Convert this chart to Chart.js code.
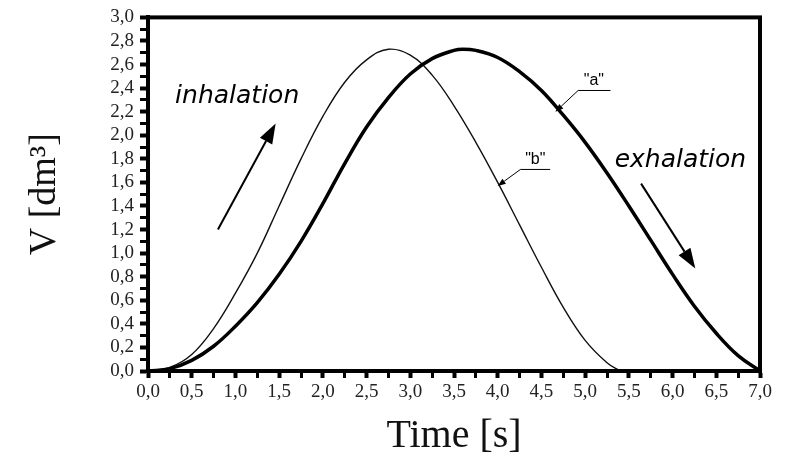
<!DOCTYPE html>
<html>
<head>
<meta charset="utf-8">
<script src="https://cdn.jsdelivr.net/npm/chart.js@4.4.1/dist/chart.umd.min.js"></script>
<style>
  html, body { margin: 0; padding: 0; background: #fff; }
  #wrap { width: 787px; height: 458px; }
</style>
</head>
<body>
<div id="wrap"><canvas id="breathChart"></canvas></div>
<script>
// curve "a" (thick)
const timeA = [0, 0.25, 0.5, 0.75, 1.0, 1.25, 1.5, 1.75, 2.0, 2.25, 2.5, 2.75, 3.0, 3.25, 3.5, 3.6,
               3.75, 4.0, 4.25, 4.5, 4.75, 5.0, 5.25, 5.5, 5.75, 6.0, 6.25, 6.5, 6.75, 7.0];
const volA  = [0.00, 0.02, 0.09, 0.21, 0.38, 0.58, 0.82, 1.10, 1.42, 1.76, 2.07, 2.32, 2.52, 2.65, 2.72, 2.73,
               2.72, 2.66, 2.54, 2.38, 2.17, 1.94, 1.68, 1.40, 1.11, 0.82, 0.55, 0.32, 0.13, 0.00];

// curve "b" (thin)
const timeB = [0, 0.25, 0.5, 0.75, 1.0, 1.25, 1.5, 1.75, 2.0, 2.25, 2.5, 2.75, 3.0, 3.25, 3.5,
               3.75, 4.0, 4.25, 4.5, 4.75, 5.0, 5.25, 5.4];
const volB  = [0.00, 0.03, 0.14, 0.36, 0.66, 1.00, 1.40, 1.80, 2.16, 2.45, 2.64, 2.73, 2.68, 2.51, 2.25,
               1.94, 1.60, 1.24, 0.88, 0.54, 0.26, 0.07, 0.00];

// axis ranges / ticks
const xMin = 0, xMax = 7, xStep = 0.25;
const yMin = 0, yMax = 3, yStep = 0.1;

const xTitle = 'Time [s]';
const yTitle = 'V [dm³]';

// annotation texts, placed in data units
const notes = [
  { text: 'inhalation', t: 1.02, v: 2.33 },
  { text: 'exhalation', t: 6.09, v: 1.79 }
];
const arrows = [
  { from: [0.80, 1.20], to: [1.46, 2.10] },
  { from: [5.64, 1.59], to: [6.26, 0.87] }
];
const curveLabels = [
  { text: '"a"', t: 5.10, v: 2.46, lineFrom: 4.92, lineTo: 5.29, lineV: 2.38, tipT: 4.66, tipV: 2.20 },
  { text: '"b"', t: 4.43, v: 1.79, lineFrom: 4.26, lineTo: 4.60, lineV: 1.71, tipT: 4.00, tipV: 1.57 }
];

const toPoints = (xs, ys) => xs.map((x, i) => ({ x: x, y: ys[i] }));
const comma = v => v.toFixed(1).replace('.', ',');

function drawArrow(ctx, x1, y1, x2, y2, head, width) {
    const ang = Math.atan2(y2 - y1, x2 - x1);
    const bx = x2 - head * Math.cos(ang);
    const by = y2 - head * Math.sin(ang);
    ctx.beginPath();
    ctx.moveTo(x1, y1);
    ctx.lineTo(bx, by);
    ctx.stroke();
    ctx.beginPath();
    ctx.moveTo(x2, y2);
    ctx.lineTo(bx + width * Math.sin(ang), by - width * Math.cos(ang));
    ctx.lineTo(bx - width * Math.sin(ang), by + width * Math.cos(ang));
    ctx.closePath();
    ctx.fill();
}

// frame + texts + arrows
const extrasPlugin = {
    id: 'extras',
    afterDraw(chart) {
        const { ctx, chartArea: a, scales: { x, y } } = chart;
        ctx.save();
        ctx.strokeStyle = '#000';
        ctx.lineWidth = 4;
        ctx.strokeRect(a.left, a.top, a.right - a.left, a.bottom - a.top);

        ctx.fillStyle = '#000';
        ctx.font = 'italic 25px "DejaVu Sans", sans-serif';
        ctx.textAlign = 'center';
        ctx.textBaseline = 'middle';
        notes.forEach(n => ctx.fillText(n.text, x.getPixelForValue(n.t), y.getPixelForValue(n.v)));

        ctx.lineWidth = 2;
        arrows.forEach(ar => {
            drawArrow(ctx, x.getPixelForValue(ar.from[0]), y.getPixelForValue(ar.from[1]),
                      x.getPixelForValue(ar.to[0]), y.getPixelForValue(ar.to[1]), 20, 7);
        });

        ctx.font = '16px "Liberation Sans", Arial, sans-serif';
        ctx.lineWidth = 1;
        curveLabels.forEach(c => {
            ctx.fillText(c.text, x.getPixelForValue(c.t), y.getPixelForValue(c.v));
            const ly = y.getPixelForValue(c.lineV);
            const lx1 = x.getPixelForValue(c.lineFrom);
            ctx.beginPath();
            ctx.moveTo(x.getPixelForValue(c.lineTo), ly);
            ctx.lineTo(lx1, ly);
            ctx.stroke();
            drawArrow(ctx, lx1, ly, x.getPixelForValue(c.tipT), y.getPixelForValue(c.tipV), 8, 3);
        });
        ctx.restore();
    }
};

const tickFont = { family: '"Liberation Serif", "Times New Roman", serif', size: 19 };

new Chart(document.getElementById('breathChart'), {
    type: 'line',
    data: {
        datasets: [
            {
                label: 'a',
                data: toPoints(timeA, volA),
                borderColor: '#000',
                borderWidth: 3.5,
                pointRadius: 0,
                tension: 0.4,
                fill: false
            },
            {
                label: 'b',
                data: toPoints(timeB, volB),
                borderColor: '#111',
                borderWidth: 1.4,
                pointRadius: 0,
                tension: 0.4,
                fill: false
            }
        ]
    },
    options: {
        responsive: true,
        maintainAspectRatio: false,
        animation: false,
        layout: { padding: { left: 0, right: 27, top: 15, bottom: 0 } },
        plugins: { legend: { display: false }, tooltip: { enabled: false } },
        scales: {
            x: {
                type: 'linear',
                min: xMin,
                max: xMax,
                afterFit: s => { s.height = 87; },
                border: { display: true, color: '#000', width: 4 },
                grid: {
                    drawOnChartArea: false,
                    drawTicks: true,
                    tickLength: 7,
                    tickColor: '#000',
                    tickWidth: ctx => (Math.round(ctx.tick.value * 4) % 2 === 0 ? 4 : 3)
                },
                ticks: {
                    stepSize: xStep,
                    autoSkip: false,
                    maxRotation: 0,
                    padding: 3,
                    color: '#222',
                    font: tickFont,
                    callback: v => (Math.round(v * 4) % 2 === 0 ? comma(v) : '')
                },
                title: {
                    display: true,
                    text: xTitle,
                    color: '#111',
                    font: { family: '"Liberation Serif", "Times New Roman", serif', size: 40, lineHeight: 1 },
                    padding: { top: 0, bottom: 2 }
                }
            },
            y: {
                type: 'linear',
                min: yMin,
                max: yMax,
                afterFit: s => { s.width = 148; },
                border: { display: true, color: '#000', width: 4 },
                grid: {
                    drawOnChartArea: false,
                    drawTicks: true,
                    tickLength: 8,
                    tickColor: '#000',
                    tickWidth: ctx => (Math.round(ctx.tick.value * 10) % 2 === 0 ? 4 : 3)
                },
                ticks: {
                    stepSize: yStep,
                    autoSkip: false,
                    padding: 6,
                    color: '#222',
                    font: tickFont,
                    callback: v => (Math.round(v * 10) % 2 === 0 ? comma(v) : '')
                },
                title: {
                    display: true,
                    text: yTitle,
                    color: '#111',
                    font: { family: '"Liberation Serif", "Times New Roman", serif', size: 38, lineHeight: 1 },
                    padding: { top: 26, bottom: 0 }
                }
            }
        }
    },
    plugins: [extrasPlugin]
});
</script>
</body>
</html>
